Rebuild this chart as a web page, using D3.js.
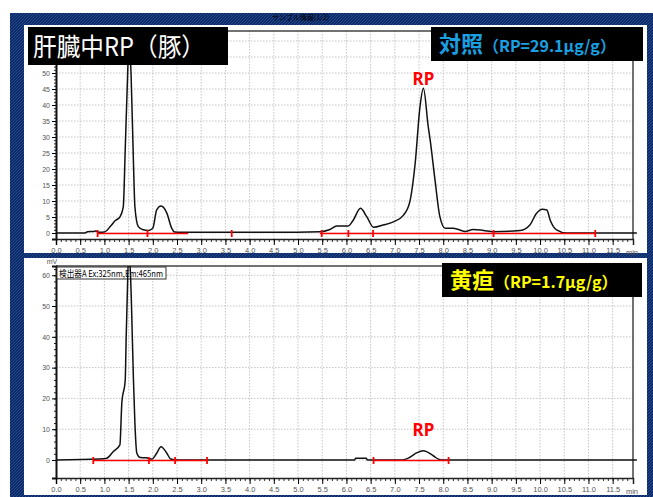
<!DOCTYPE html>
<html>
<head>
<meta charset="utf-8">
<script src="https://cdn.jsdelivr.net/npm/d3@7/dist/d3.min.js"></script>
<style>
  body { margin: 0; background: #fff; }
  svg { display: block; }
  .tick text { font-family: "Liberation Sans", sans-serif; fill: #555; }
  .grid line { stroke: #c4c4c4; stroke-dasharray: 1.5 1.5; }
</style>
</head>
<body>
<div id="wrapper"></div>
<script>
// x axis (minutes)
const timeTicks = [0, 0.5, 1, 1.5, 2, 2.5, 3, 3.5, 4, 4.5, 5, 5.5, 6, 6.5, 7, 7.5, 8, 8.5, 9, 9.5, 10, 10.5, 11, 11.5]
const timeLabels = ["0.0","0.5","1.0","1.5","2.0","2.5","3.0","3.5","4.0","4.5","5.0","5.5","6.0","6.5","7.0","7.5","8.0","8.5","9.0","9.5","10.0","10.5","11.0","11.5"]

// control (top) chromatogram
const controlTime = [0, 0.6, 0.65, 0.78, 0.82, 0.9, 1.0, 1.12, 1.22, 1.32, 1.39, 1.43, 1.47, 1.51, 1.55, 1.6, 1.63, 1.7, 1.8, 1.91, 2.0, 2.08, 2.17, 2.29, 2.39, 2.45, 2.6, 3.5, 4.5, 5.45, 5.66, 5.8, 6.04, 6.14, 6.29, 6.42, 6.56, 6.76, 6.97, 7.18, 7.31, 7.42, 7.52, 7.59, 7.69, 7.73, 7.83, 7.93, 8.04, 8.21, 8.45, 8.62, 8.83, 9.04, 9.59, 9.79, 9.92, 10.05, 10.14, 10.21, 10.34, 10.55, 11.0, 12.0]
const controlSignal = [0, 0, 0.4, 0.5, 0.6, 0.2, 0.3, 2, 3.8, 5, 8.2, 26, 45, 60, 50, 22, 8.2, 2, 1, 0.8, 1.5, 7.2, 8.4, 6.2, 1.5, 0.3, 0.2, 0.2, 0.2, 0.4, 1.1, 2.2, 2.2, 4, 7.7, 5.1, 1.8, 2.5, 3.5, 5.6, 9.8, 21.8, 39.5, 45.2, 33.2, 29, 16.5, 5.1, 1.5, 1.5, 0.5, 1.1, 0.8, 0.4, 0.8, 2.5, 6, 7.4, 7.2, 4, 1, 0, 0, 0]
const controlBaselines = [[0.86, 2.73], [5.45, 11.14]]
const controlEvents = [0.86, 1.89, 3.63, 5.49, 6.04, 6.55, 9.04, 11.14]
const controlYTicks = [0, 5, 10, 15, 20, 25, 30, 35, 40, 45, 50, 55, 60]

// jaundice (bottom) chromatogram
const jaundiceTime = [0, 0.9, 1.05, 1.18, 1.32, 1.36, 1.43, 1.45, 1.47, 1.5, 1.54, 1.56, 1.6, 1.63, 1.67, 1.74, 1.87, 1.98, 2.08, 2.17, 2.29, 2.37, 2.5, 6.17, 6.19, 6.41, 6.43, 7.14, 7.31, 7.45, 7.59, 7.8, 7.9, 8.0, 12.0]
const jaundiceSignal = [0, 0.3, 0.6, 2.7, 4.9, 18.5, 26, 40, 52, 67, 60, 50, 26, 12, 2.2, 0.8, 0.7, 0.3, 2.2, 4.3, 2.2, 0.3, 0, 0, 0.6, 0.6, 0, 0, 0.9, 2.3, 3.0, 1.3, 0.3, 0, 0]
const jaundiceBaselines = [[0.77, 3.12], [6.56, 8.11]]
const jaundiceEvents = [0.77, 1.92, 2.46, 3.12, 6.56, 8.11]
const jaundiceYTicks = [0, 10, 20, 30, 40, 50, 60]

const panels = [
  {
    time: controlTime, signal: controlSignal, baselines: controlBaselines, events: controlEvents,
    yTicks: controlYTicks, yMaxLabel: 50, yMinorStep: 1, yDomain: [-1.875, 63.125], top: 31, bottom: 239,
    rpPeak: [7.59, 45.2], rpOffset: 3
  },
  {
    time: jaundiceTime, signal: jaundiceSignal, baselines: jaundiceBaselines, events: jaundiceEvents,
    yTicks: jaundiceYTicks, yMaxLabel: 60, yMinorStep: 2, yDomain: [-5.84, 63], top: 266, bottom: 478,
    rpPeak: [7.59, 3.0], rpOffset: 15
  }
]

const width = 653
const height = 497
const plotLeft = 56
const plotRight = 633

const svg = d3.select('#wrapper')
  .append('svg')
  .attr('width', width)
  .attr('height', height)

// hatched navy frame
const defs = svg.append('defs')
const hatch = defs.append('pattern')
  .attr('id', 'hatch')
  .attr('patternUnits', 'userSpaceOnUse')
  .attr('width', 3)
  .attr('height', 3)
hatch.append('rect').attr('width', 3).attr('height', 3).attr('fill', '#0b2a68')
hatch.append('path').attr('d', 'M0,3 L3,0').attr('stroke', '#2b4d90').attr('stroke-width', 0.9)

svg.append('rect')
  .attr('x', 10).attr('y', 13)
  .attr('width', width - 10).attr('height', height - 13)
  .attr('fill', 'url(#hatch)')

svg.append('text')
  .attr('x', 272).attr('y', 19.5)
  .style('font-family', '"Noto Sans CJK JP"')
  .style('font-size', '7px')
  .attr('fill', '#000')
  .text('サンプル情報(1/2)')

svg.append('rect').attr('x', 24).attr('y', 25).attr('width', 623).attr('height', 228).attr('fill', '#fff')
svg.append('rect').attr('x', 24).attr('y', 258).attr('width', 623).attr('height', 237).attr('fill', '#fff')

const xScale = d3.scaleLinear()
  .domain([0, 11.92])
  .range([plotLeft, plotRight])

panels.forEach((p, i) => {
  const yScale = d3.scaleLinear()
    .domain(p.yDomain)
    .range([p.bottom, p.top])

  const g = svg.append('g')

  // grid
  const grid = g.append('g').attr('class', 'grid')
  grid.selectAll('.vg')
    .data(timeTicks.filter(t => t > 0))
    .join('line')
    .attr('x1', d => xScale(d)).attr('x2', d => xScale(d))
    .attr('y1', p.top).attr('y2', p.bottom)
  grid.selectAll('.hg')
    .data(p.yTicks)
    .join('line')
    .attr('x1', plotLeft).attr('x2', plotRight)
    .attr('y1', d => yScale(d)).attr('y2', d => yScale(d))

  // frame top / right
  g.append('path')
    .attr('d', `M${plotLeft},${p.top}H${plotRight}V${p.bottom}`)
    .attr('fill', 'none')
    .attr('stroke', '#444')
    .attr('stroke-width', 1.5)

  // x axis
  const minorX = d3.range(0, 119).map(k => k / 10)
  g.append('g')
    .attr('transform', `translate(0,${p.bottom})`)
    .call(d3.axisBottom(xScale).tickValues(minorX).tickSize(3).tickFormat(''))
    .call(a => a.select('.domain').remove())
    .call(a => a.selectAll('line').attr('stroke', '#333'))
  g.append('g')
    .attr('transform', `translate(0,${p.bottom})`)
    .call(d3.axisBottom(xScale).tickValues(timeTicks).tickSize(6).tickPadding(3)
      .tickFormat((d, k) => timeLabels[k]))
    .call(a => a.select('.domain').attr('stroke', '#222').attr('stroke-width', 1.5))
    .call(a => a.selectAll('text').style('font-size', '7.5px'))
  g.append('text')
    .attr('x', plotRight - 1).attr('y', p.bottom + 16)
    .attr('text-anchor', 'middle')
    .style('font-family', '"Liberation Sans", sans-serif')
    .style('font-size', '7.5px')
    .attr('fill', '#555')
    .text('min')

  // y axis
  const minorY = d3.range(0, 63, p.yMinorStep)
  g.append('g')
    .attr('transform', `translate(${plotLeft},0)`)
    .call(d3.axisLeft(yScale).tickValues(minorY).tickSize(2).tickFormat(''))
    .call(a => a.select('.domain').remove())
    .call(a => a.selectAll('line').attr('stroke', '#222'))
  g.append('g')
    .attr('transform', `translate(${plotLeft},0)`)
    .call(d3.axisLeft(yScale).tickValues(p.yTicks).tickSize(4).tickPadding(2)
      .tickFormat(d => d <= p.yMaxLabel ? d : ''))
    .call(a => a.select('.domain').attr('stroke', '#111').attr('stroke-width', 2))
    .call(a => a.selectAll('text').style('font-size', '7px'))

  if (i === 1) {
    g.append('text')
      .attr('x', 52).attr('y', 264)
      .attr('text-anchor', 'middle')
      .style('font-family', '"Liberation Sans", sans-serif')
      .style('font-size', '7px')
      .attr('fill', '#555')
      .text('mV')
    g.append('rect')
      .attr('x', 57).attr('y', 267).attr('width', 109).attr('height', 12)
      .attr('fill', '#fff').attr('stroke', '#333').attr('stroke-width', 1)
    g.append('text')
      .attr('x', 59).attr('y', 276.5)
      .style('font-family', '"Noto Sans CJK JP"')
      .style('font-size', '9px')
      .attr('textLength', 104)
      .attr('lengthAdjust', 'spacingAndGlyphs')
      .attr('fill', '#000')
      .text('検出器A Ex:325nm,Em:465nm')
  }

  // clip for traces
  const clipId = `clip-${i}`
  defs.append('clipPath').attr('id', clipId)
    .append('rect')
    .attr('x', plotLeft).attr('y', p.top)
    .attr('width', plotRight - plotLeft + 4).attr('height', p.bottom - p.top)

  const line = d3.line()
    .x(d => xScale(d[0]))
    .y(d => yScale(d[1]))
    .curve(d3.curveMonotoneX)

  const tracePoints = p.time.map((t, k) => [t, p.signal[k]])
  g.append('path')
    .attr('clip-path', `url(#${clipId})`)
    .attr('d', line(tracePoints))
    .attr('fill', 'none')
    .attr('stroke', '#111')
    .attr('stroke-width', 1.5)

  // integration baselines
  g.selectAll('.baseline')
    .data(p.baselines)
    .join('line')
    .attr('x1', d => xScale(d[0])).attr('x2', d => xScale(d[1]))
    .attr('y1', yScale(0) + 0.5).attr('y2', yScale(0) + 0.5)
    .attr('stroke', '#ff0000')
    .attr('stroke-width', 1.5)
  g.selectAll('.event')
    .data(p.events)
    .join('line')
    .attr('x1', d => xScale(d)).attr('x2', d => xScale(d))
    .attr('y1', yScale(0) - 3).attr('y2', yScale(0) + 4)
    .attr('stroke', '#ff0000')
    .attr('stroke-width', 1.8)

  // RP label
  g.append('text')
    .attr('x', xScale(p.rpPeak[0]))
    .attr('y', yScale(p.rpPeak[1]) - p.rpOffset)
    .attr('text-anchor', 'middle')
    .style('font-family', '"Noto Sans", sans-serif')
    .style('font-weight', 'bold')
    .style('font-size', '17px')
    .attr('fill', '#ff0000')
    .text('RP')
})

// title boxes
svg.append('rect').attr('x', 28).attr('y', 27).attr('width', 200).attr('height', 38).attr('fill', '#000')
svg.append('text')
  .attr('x', 33).attr('y', 56)
  .style('font-family', '"Noto Sans CJK JP"')
  .style('font-size', '25px')
  .attr('textLength', 172)
  .attr('lengthAdjust', 'spacingAndGlyphs')
  .attr('fill', '#fff')
  .text('肝臓中RP（豚）')

const labelBoxes = [
  { x: 431, y: 27, w: 212, h: 34, color: '#1aa0e2', main: '対照', sub: '（RP=29.1μg/g）' },
  { x: 442, y: 263, w: 200, h: 34, color: '#ffff00', main: '黄疸', sub: '（RP=1.7μg/g）' }
]

labelBoxes.forEach(b => {
  svg.append('rect')
    .attr('x', b.x).attr('y', b.y).attr('width', b.w).attr('height', b.h)
    .attr('fill', '#000')
  const t = svg.append('text')
    .attr('x', b.x + 8).attr('y', b.y + 25)
    .style('font-family', '"Noto Sans CJK JP"')
    .style('font-weight', 'bold')
    .attr('fill', b.color)
  t.append('tspan').style('font-size', '22px').text(b.main)
  t.append('tspan').style('font-size', '16px').text(b.sub)
})
</script>
</body>
</html>
